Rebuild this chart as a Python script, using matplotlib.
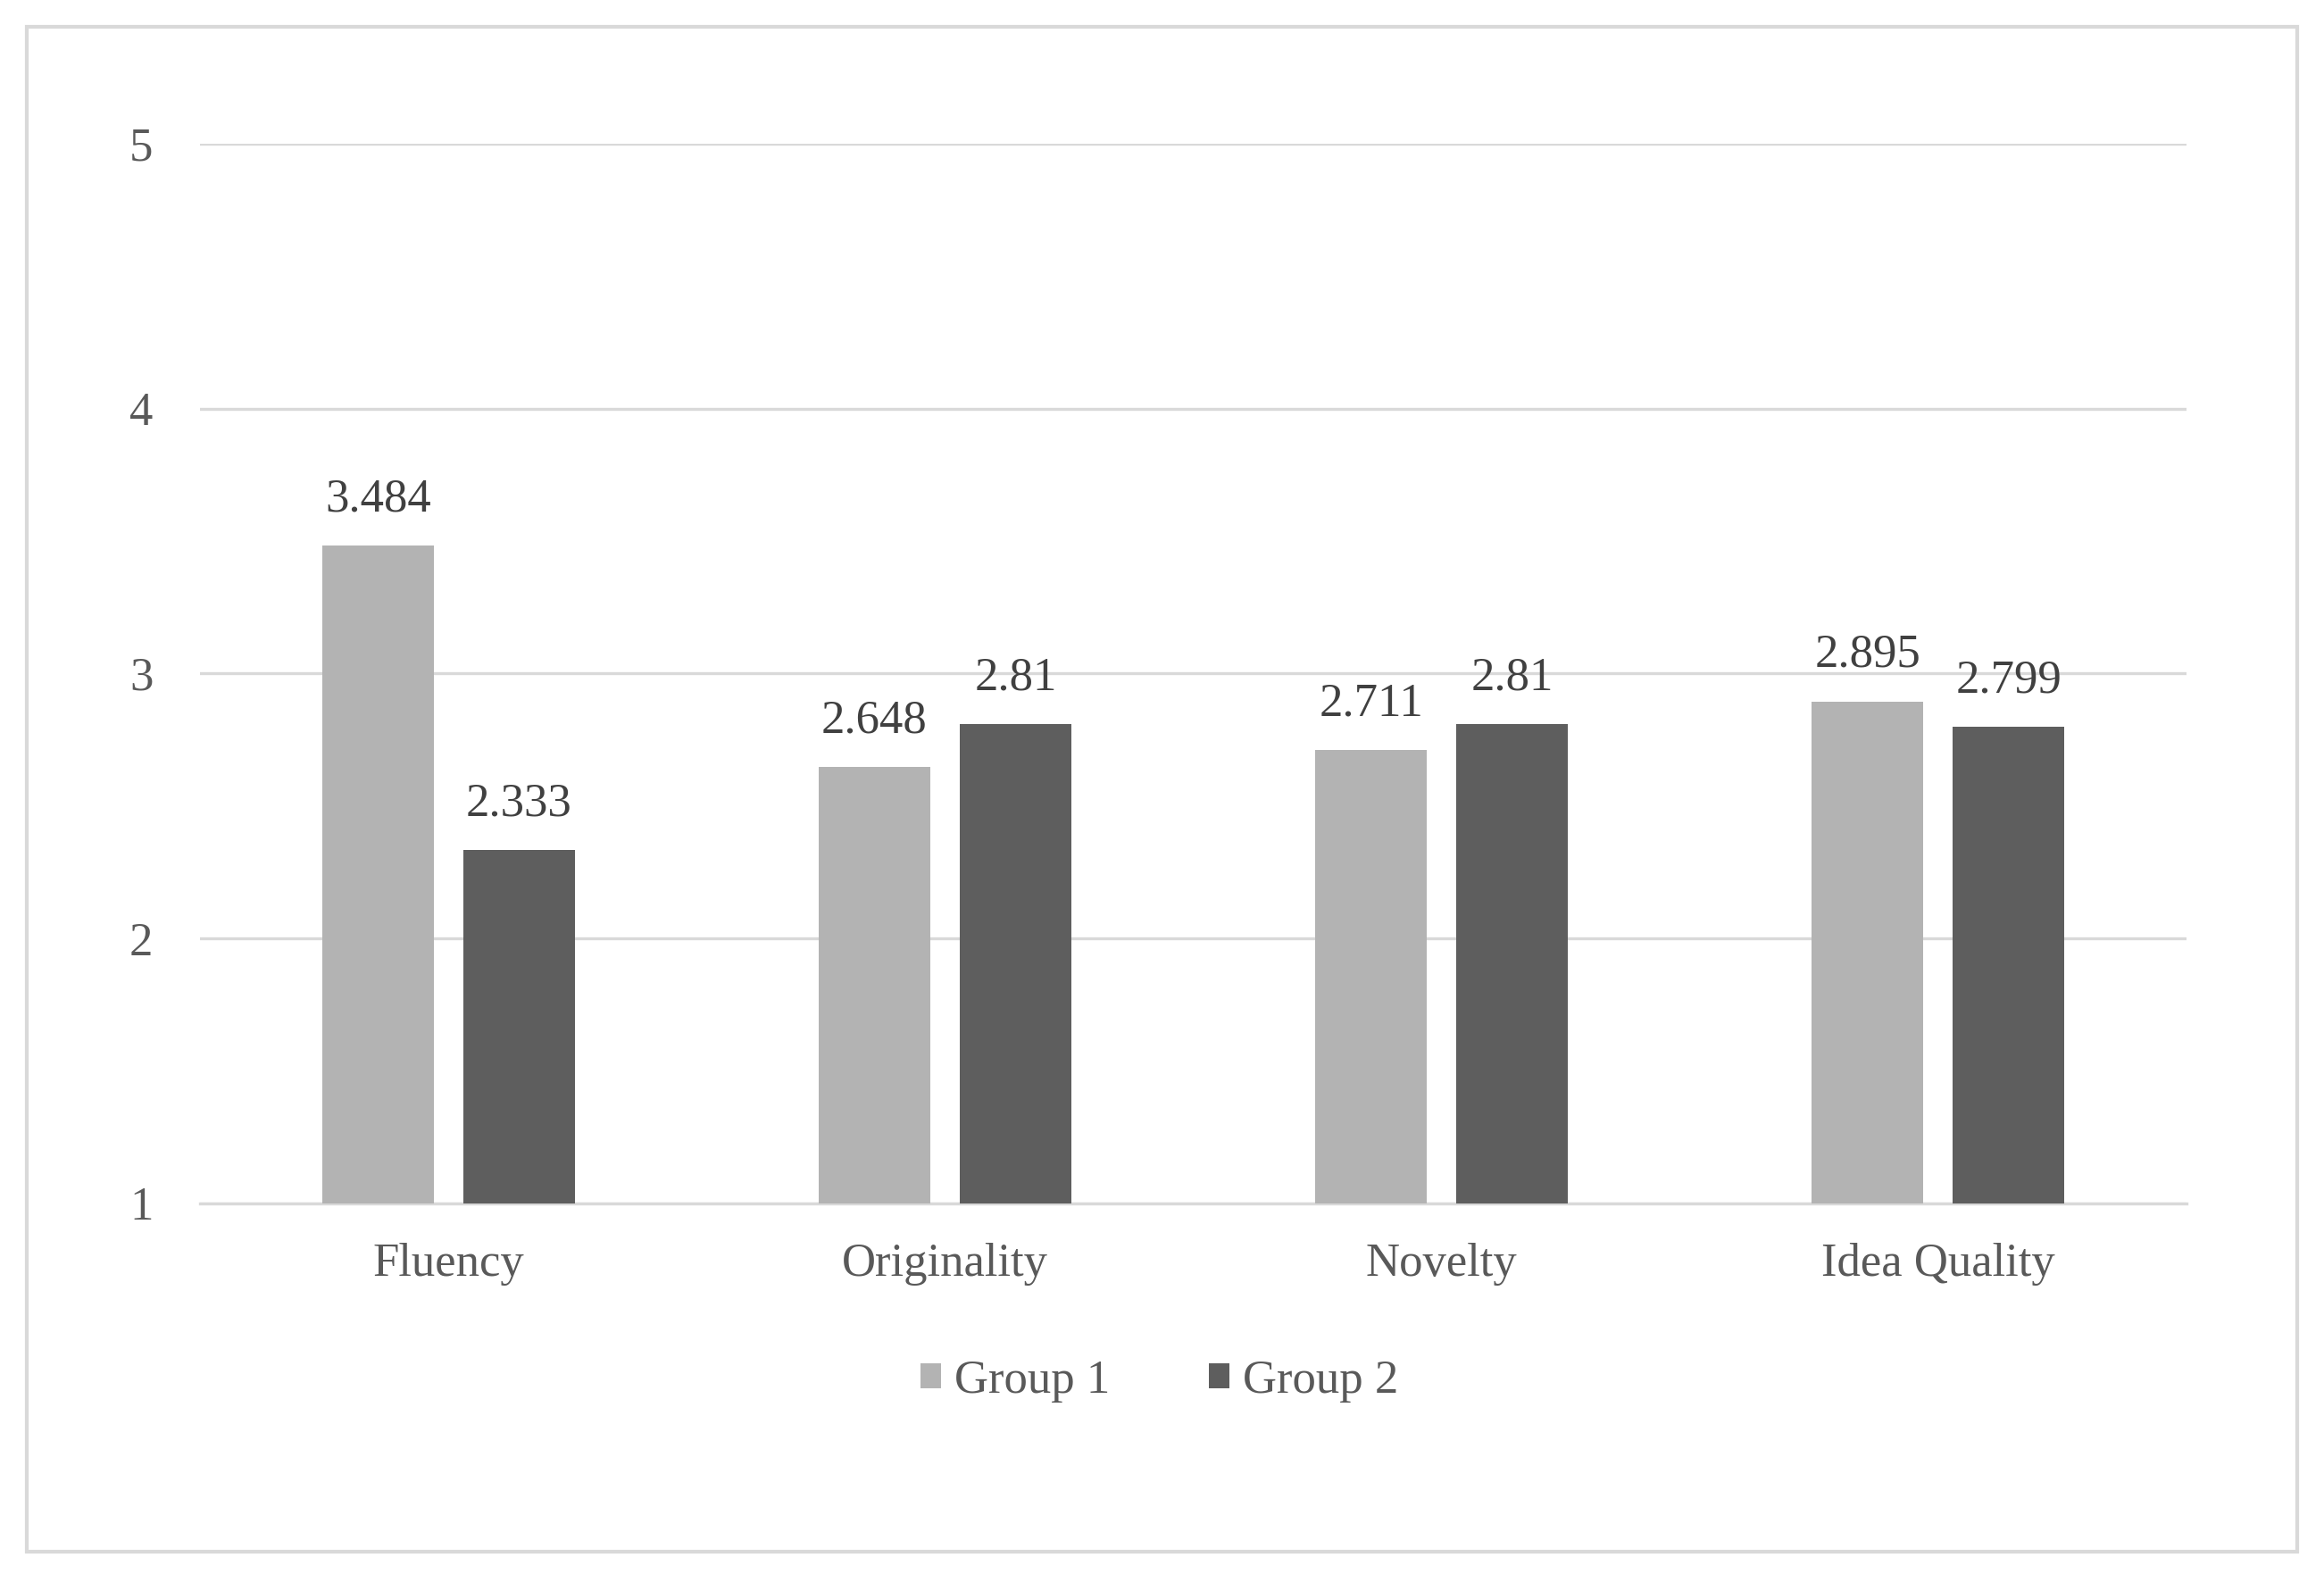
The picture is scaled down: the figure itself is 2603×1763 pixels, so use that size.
import matplotlib
matplotlib.use("Agg")
import matplotlib.pyplot as plt
from matplotlib.patches import Rectangle
import numpy as np

categories = ["Fluency", "Originality", "Novelty", "Idea Quality"]
group1 = [3.484, 2.648, 2.711, 2.895]
group2 = [2.333, 2.81, 2.81, 2.799]
series_names = ["Group 1", "Group 2"]
yticks = [1, 2, 3, 4, 5]

plt.rcParams['font.family'] = ['Liberation Serif', 'DejaVu Serif']

fig = plt.figure(figsize=(26.03, 17.63), dpi=100)
ax = fig.add_axes([0.0861, 0.2354, 0.8547, 0.6733])

# outer frame of the chart area
fig.patches.append(Rectangle((0.0115, 0.0142), 0.977, 0.9688, transform=fig.transFigure,
                             fill=False, edgecolor="#d9d9d9", linewidth=3))

x = np.arange(len(categories))
w = 0.225
off = 0.142
b1 = ax.bar(x - off, np.array(group1) - 1, w, bottom=1, color="#b3b3b3", label=series_names[0], zorder=3)
b2 = ax.bar(x + off, np.array(group2) - 1, w, bottom=1, color="#5e5e5e", label=series_names[1], zorder=3)

for bars, vals in [(b1, group1), (b2, group2)]:
    for r, v in zip(bars, vals):
        ax.annotate(f"{v:g}", (r.get_x() + r.get_width() / 2, v), xytext=(0, 20),
                    textcoords="offset points", ha="center", va="bottom",
                    fontsize=38, color="#404040")

ax.set_xlim(-0.5, 3.5)
ax.set_ylim(1, 5)
ax.set_yticks(yticks)
ax.set_xticks(x)
ax.set_xticklabels(categories)
ax.tick_params(axis="y", length=0, pad=38, labelsize=38, labelcolor="#595959")
ax.tick_params(axis="x", length=0, pad=32, labelsize=38, labelcolor="#595959")
ax.grid(axis="y", color="#d9d9d9", linewidth=2.4, zorder=0)
for s in ["top", "right", "left"]:
    ax.spines[s].set_visible(False)
ax.spines["bottom"].set_color("#d9d9d9")
ax.spines["bottom"].set_linewidth(2.4)

fig.legend(handles=[b1, b2], labels=series_names, loc="center", bbox_to_anchor=(0.4988, 0.1225),
           ncol=2, frameon=False, fontsize=38, labelcolor="#595959",
           handlelength=0.44, handleheight=0.44, handletextpad=0.28, columnspacing=2.1)

fig.savefig("out.png", dpi=100, facecolor="white")
